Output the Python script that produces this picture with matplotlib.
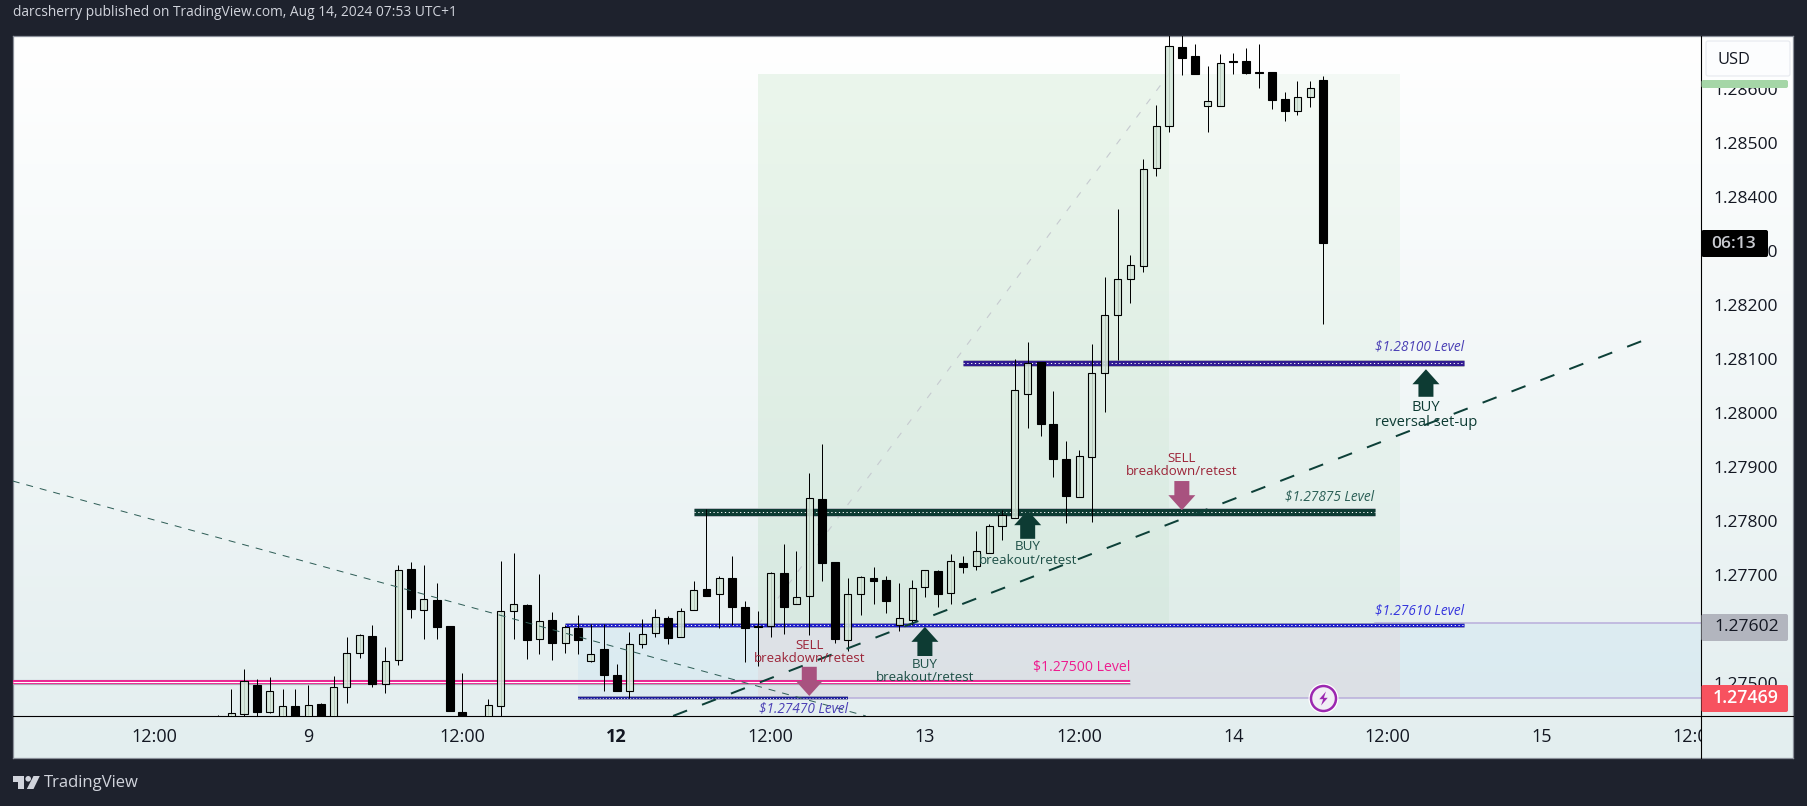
import matplotlib
matplotlib.use("Agg")
import matplotlib.pyplot as plt
import numpy as np
from matplotlib.patches import Rectangle, FancyBboxPatch, Circle, Polygon
from matplotlib.transforms import Bbox

plt.rcParams['font.family'] = ['Open Sans', 'DejaVu Sans']

W, H = 1807, 806
PX = 0.72  # one pixel in points

# hourly candles, hour 0 = Aug 9 00:00, weekend left out
hours = np.arange(-7, 80)
opens = [1.27420, 1.27420, 1.27443, 1.27496, 1.27447, 1.27420, 1.27457,
         1.27425, 1.27461, 1.27425, 1.27493, 1.27556, 1.27587, 1.27499, 1.27543, 1.27711, 1.27636,
         1.27654, 1.27606, 1.27446, 1.27430, 1.27425, 1.27458, 1.27633, 1.27644, 1.27582, 1.27617,
         1.27575, 1.27602, 1.27541, 1.27563, 1.27514, 1.27486, 1.27572, 1.27592, 1.27620, 1.27585,
         1.27635, 1.27674, 1.27664, 1.27694, 1.27640, 1.27605, 1.27605, 1.27703, 1.27646, 1.27661,
         1.27840, 1.27724, 1.27580, 1.27664, 1.27694, 1.27690, 1.27607, 1.27617, 1.27677, 1.27707,
         1.27666, 1.27723, 1.27717, 1.27741, 1.27790, 1.27806, 1.28036, 1.28094, 1.27980, 1.27915,
         1.27844, 1.27918, 1.28074, 1.28181, 1.28248, 1.28272, 1.28453, 1.28531, 1.28677, 1.28661,
         1.28568, 1.28568, 1.28651, 1.28651, 1.28631, 1.28631, 1.28581, 1.28559, 1.28586, 1.28616]
highs = [1.27441, 1.27489, 1.27526, 1.27507, 1.27511, 1.27489, 1.27489,
         1.27496, 1.27463, 1.27513, 1.27585, 1.27591, 1.27607, 1.27567, 1.27718, 1.27724, 1.27718,
         1.27685, 1.27606, 1.27518, 1.27435, 1.27470, 1.27726, 1.27741, 1.27646, 1.27702, 1.27631,
         1.27607, 1.27626, 1.27610, 1.27609, 1.27536, 1.27594, 1.27618, 1.27637, 1.27625, 1.27638,
         1.27689, 1.27823, 1.27698, 1.27735, 1.27651, 1.27633, 1.27705, 1.27757, 1.27744, 1.27888,
         1.27942, 1.27724, 1.27694, 1.27699, 1.27714, 1.27699, 1.27685, 1.27690, 1.27709, 1.27709,
         1.27738, 1.27735, 1.27781, 1.27794, 1.27820, 1.28100, 1.28131, 1.28094, 1.28041, 1.27948,
         1.27931, 1.28128, 1.28252, 1.28378, 1.28293, 1.28470, 1.28570, 1.28710, 1.28710, 1.28683,
         1.28642, 1.28664, 1.28666, 1.28675, 1.28683, 1.28631, 1.28594, 1.28614, 1.28614, 1.28624]
lows = [1.27400, 1.27410, 1.27430, 1.27430, 1.27444, 1.27410, 1.27410,
        1.27415, 1.27415, 1.27420, 1.27463, 1.27546, 1.27493, 1.27481, 1.27533, 1.27620, 1.27581,
        1.27581, 1.27448, 1.27420, 1.27410, 1.27420, 1.27430, 1.27581, 1.27544, 1.27554, 1.27543,
        1.27556, 1.27554, 1.27539, 1.27486, 1.27486, 1.27472, 1.27565, 1.27586, 1.27573, 1.27585,
        1.27635, 1.27661, 1.27602, 1.27607, 1.27538, 1.27532, 1.27585, 1.27591, 1.27646, 1.27589,
        1.27689, 1.27574, 1.27560, 1.27626, 1.27646, 1.27630, 1.27597, 1.27607, 1.27659, 1.27640,
        1.27646, 1.27704, 1.27710, 1.27741, 1.27765, 1.27806, 1.27973, 1.27957, 1.27882, 1.27797,
        1.27844, 1.27799, 1.28001, 1.28098, 1.28204, 1.28261, 1.28438, 1.28521, 1.28626, 1.28627,
        1.28521, 1.28568, 1.28628, 1.28628, 1.28602, 1.28562, 1.28540, 1.28551, 1.28567, 1.28165]
closes = [1.27410, 1.27444, 1.27503, 1.27447, 1.27486, 1.27457, 1.27420,
          1.27459, 1.27425, 1.27492, 1.27555, 1.27588, 1.27498, 1.27540, 1.27710, 1.27637, 1.27655,
          1.27604, 1.27448, 1.27425, 1.27420, 1.27460, 1.27633, 1.27646, 1.27580, 1.27614, 1.27574,
          1.27603, 1.27580, 1.27553, 1.27514, 1.27486, 1.27572, 1.27590, 1.27622, 1.27584, 1.27633,
          1.27672, 1.27662, 1.27694, 1.27641, 1.27601, 1.27604, 1.27703, 1.27641, 1.27659, 1.27842,
          1.27723, 1.27582, 1.27664, 1.27696, 1.27688, 1.27652, 1.27620, 1.27675, 1.27709, 1.27665,
          1.27725, 1.27715, 1.27744, 1.27790, 1.27811, 1.28042, 1.28092, 1.27980, 1.27915, 1.27847,
          1.27920, 1.28074, 1.28181, 1.28248, 1.28274, 1.28451, 1.28531, 1.28679, 1.28658, 1.28627,
          1.28577, 1.28649, 1.28650, 1.28630, 1.28630, 1.28580, 1.28560, 1.28586, 1.28601, 1.28314]

price_ticks = [1.275, 1.276, 1.277, 1.278, 1.279, 1.280, 1.281, 1.282, 1.283, 1.284, 1.285, 1.286]
time_ticks = [-12, 0, 12, 24, 36, 48, 60, 72, 84, 96, 108]
time_labels = ['12:00', '9', '12:00', '12', '12:00', '13', '12:00', '14', '12:00', '15', '12:00']

# horizontal levels: start, end, price, colour, thickness in px, outer thickness in px
level_start = [-23, 20, 30, 51]
level_end = [64, 90, 83, 90]
level_price = [1.27501, 1.27607, 1.27817, 1.28093]
level_color = ['#ee1c8f', '#1c1cc8', '#0d3b33', '#311b92']
level_width = [3.8, 3.4, 7, 5]
level_outer = [5.2, 5, 8.6, 7]
low_level = (21, 42, 1.27472)

# level captions: right end, price, text, colour
cap_x = [90, 83, 90, 64, 42]
cap_y = [1.28122, 1.27845, 1.27634, 1.27528, 1.27452]
cap_text = ['$1.28100 Level', '$1.27875 Level', '$1.27610 Level', '$1.27500 Level', '$1.27470 Level']
cap_color = ['#4a3fb5', '#2b5f56', '#3535dd', '#ee1c8f', '#4a3fb5']
cap_style = ['italic', 'italic', 'italic', 'normal', 'italic']
cap_size = [9.8, 9.8, 9.8, 10.1, 9.8]

# trade arrows: time, tail, tip, first line, second line, texts
buy_x = [56, 48, 87]
buy_tail = [1.27767, 1.27550, 1.28030]
buy_tip = [1.27820, 1.27604, 1.28081]
buy_y1 = [1.27752, 1.27535, 1.28011]
buy_y2 = [1.27726, 1.27511, 1.27983]
buy_text = ['breakout/retest', 'breakout/retest', 'reversal set-up']
buy_size = [9.6, 9.6, 10.6]
buy_color = ['#1e5047', '#1e5047', '#0d3b33']
sell_x = [39, 68]
sell_tail = [1.27530, 1.27874]
sell_tip = [1.27476, 1.27820]
sell_y1 = [1.27570, 1.27915]
sell_y2 = [1.27546, 1.27891]
sell_text = ['breakdown/retest', 'breakdown/retest']

fig = plt.figure(figsize=(W / 100, H / 100), dpi=100, facecolor='#1e222d')


def box(x0, y0, x1, y1):
    return [x0 / W, 1 - y1 / H, (x1 - x0) / W, (y1 - y0) / H]


# backdrop with the gradient
bg = fig.add_axes(box(13, 36, 1793, 758), zorder=0)
grad = np.linspace(0, 1, 256)[:, None, None] * (np.array([227, 238, 239]) - 255) + 255
bg.imshow(grad.astype(np.uint8), aspect='auto', extent=[0, 1, 0, 1])
bg.set_xticks([])
bg.set_yticks([])
for s in bg.spines.values():
    s.set_color('#8a8f99')
    s.set_linewidth(0.9)

# main chart
ax = fig.add_axes(box(13, 36, 1701, 716), zorder=1)
ax.patch.set_alpha(0)
ax.set_xlim(-22.98, 108.41)
ax.set_ylim(1.274389, 1.286981)

# position tool areas
ax.add_patch(Rectangle((35, 1.27607), 50, 0.01021, fc='#4caf50', alpha=0.05, lw=0, zorder=1))
ax.add_patch(Rectangle((35, 1.27607), 32, 0.01021, fc='#4caf50', alpha=0.05, lw=0, zorder=1))
ax.add_patch(Rectangle((21, 1.27473), 88, 0.00138, fc='#2196f3', alpha=0.05, lw=0, zorder=1))
ax.add_patch(Rectangle((35, 1.27473), 50, 0.00134, fc='#f44336', alpha=0.06, lw=0, zorder=1))
ax.plot([83, 109], [1.27611, 1.27611], color='#b9aedb', lw=1.1, zorder=1.5)
ax.plot([42, 109], [1.27473, 1.27473], color='#b9aedb', lw=1.1, zorder=1.5)
ax.plot([35, 67], [1.27607, 1.28628], color='#c6cad0', lw=0.8, ls=(0, (6, 9)), zorder=1.5)

# levels
for i in range(len(level_price)):
    xs = [level_start[i], level_end[i]]
    ys = [level_price[i], level_price[i]]
    ax.plot(xs, ys, color='#a9adb6', lw=level_outer[i] * PX, solid_capstyle='butt', zorder=2)
    ax.plot(xs, ys, color=level_color[i], lw=level_width[i] * PX, solid_capstyle='butt', zorder=2.1)
    if level_color[i] == '#ee1c8f':
        ax.plot(xs, ys, color='white', lw=1.1 * PX, solid_capstyle='butt', zorder=2.2)
    else:
        ax.plot(xs, ys, color='white', lw=1 * PX, ls=(0, (1.2, 2.6)), dash_capstyle='butt', zorder=2.2)
ax.plot(low_level[:2], [low_level[2]] * 2, color='#a9adb6', lw=3.6 * PX, solid_capstyle='butt', zorder=2)
ax.plot(low_level[:2], [low_level[2]] * 2, color='#1c1c9a', lw=2.4 * PX, solid_capstyle='butt', zorder=2.1)
ax.plot(low_level[:2], [low_level[2]] * 2, color='white', lw=0.8 * PX, ls=(0, (1.2, 2.6)), zorder=2.2)

# candles
o = np.array(opens)
h = np.array(highs)
l = np.array(lows)
c = np.array(closes)
up = c >= o
ax.vlines(hours, l, h, color='black', lw=1 * PX, zorder=3)
ax.bar(hours[up], (c - o)[up], bottom=o[up], width=0.55, facecolor=(0.84, 0.91, 0.86, 0.88),
       edgecolor='black', linewidth=1.1 * PX, zorder=3.1)
ax.bar(hours[~up], (c - o)[~up], bottom=o[~up], width=0.62, facecolor='black',
       edgecolor='black', linewidth=1.1 * PX, zorder=3.1)

# trend lines
ax.plot([28.4, 104], [1.27439, 1.28135], color='#0d4038', lw=2 * PX, ls=(0, (7.5, 8)), zorder=3.5)
ax.plot([-23, 43.4], [1.27874, 1.27439], color='#2f5e57', lw=1 * PX, ls=(0, (7, 7)), zorder=3.5)

# arrows and notes
for i in range(len(buy_x)):
    ax.annotate('', xy=(buy_x[i], buy_tip[i]), xytext=(buy_x[i], buy_tail[i]), zorder=4,
                arrowprops=dict(facecolor='#0d3b33', edgecolor='none', width=15 * PX,
                                headwidth=27 * PX, headlength=15 * PX, shrink=0))
    ax.text(buy_x[i], buy_y1[i], 'BUY', color=buy_color[i], fontsize=buy_size[i], ha='center', va='center', zorder=5)
    ax.text(buy_x[i], buy_y2[i], buy_text[i], color=buy_color[i], fontsize=buy_size[i], ha='center', va='center', zorder=5)
for i in range(len(sell_x)):
    ax.annotate('', xy=(sell_x[i], sell_tip[i]), xytext=(sell_x[i], sell_tail[i]), zorder=4,
                arrowprops=dict(facecolor='#a8527f', edgecolor='none', width=15 * PX,
                                headwidth=27 * PX, headlength=15 * PX, shrink=0))
    ax.text(sell_x[i], sell_y1[i], 'SELL', color='#9c2438', fontsize=9.5, ha='center', va='center', zorder=5)
    ax.text(sell_x[i], sell_y2[i], sell_text[i], color='#9c2438', fontsize=9.5, ha='center', va='center', zorder=5)

for i in range(len(cap_text)):
    ax.text(cap_x[i], cap_y[i], cap_text[i], color=cap_color[i], fontsize=cap_size[i], style=cap_style[i],
            ha='right', va='center', zorder=5)

# lightning icon
ax.scatter([79], [1.27473], s=(30 * PX) ** 2, facecolor='white', edgecolor='white', lw=0, zorder=6)
ax.scatter([79], [1.27473], s=(25 * PX) ** 2, facecolor='#f1eef5', edgecolor='#9c27b0', lw=1.8, zorder=6.1)
bolt = [(0.35, 1), (-0.6, -0.1), (-0.05, -0.1), (-0.35, -1), (0.6, 0.1), (0.05, 0.1)]
ax.scatter([79], [1.27473], s=(14 * PX) ** 2, marker=bolt, color='#9c27b0', lw=0, zorder=6.2)

# axes
ax.yaxis.tick_right()
ax.set_yticks(price_ticks)
ax.set_yticklabels(['%.5f' % p for p in price_ticks], fontsize=12.6, color='#131722')
ax.set_xticks(time_ticks)
ax.set_xticklabels(time_labels, fontsize=13, color='#131722')
ax.tick_params(axis='both', length=0)
ax.tick_params(axis='y', pad=9)
ax.tick_params(axis='x', pad=8.5)
ax.get_xticklabels()[3].set_fontweight('bold')
last = ax.get_xticklabels()[-1]
last.set_clip_on(True)
last.set_clip_box(Bbox([[0, 0], [1701, H]]))
for s in ['left', 'top']:
    ax.spines[s].set_visible(False)
for s in ['right', 'bottom']:
    ax.spines[s].set_color('black')
    ax.spines[s].set_linewidth(1.1 * PX)
ax.plot([1, 1], [-0.062, 0], transform=ax.transAxes, color='black', lw=1.1 * PX, clip_on=False)
ax.plot([1, 1.0545], [0, 0], transform=ax.transAxes, color='black', lw=1.1 * PX, clip_on=False)

# tags and furniture drawn in pixels, on top of the chart
top = fig.add_axes([0, 0, 1, 1], zorder=2)
top.set_xlim(0, W)
top.set_ylim(H, 0)
top.axis('off')
top.patch.set_alpha(0)


def tag(x0, y0, x1, y1, fc, ec='none'):
    top.add_patch(FancyBboxPatch((x0, y0), x1 - x0, y1 - y0, boxstyle='round,pad=0,rounding_size=2',
                                 fc=fc, ec=ec, lw=0.8))


tag(1706, 41, 1790, 76, '#fcfdfe', '#e6e9ee')
top.text(1718, 60, 'USD', fontsize=11.8, color='#131722', va='center')
tag(1701.5, 80, 1788, 88, '#a5d6a7')
tag(1701.5, 230, 1768, 257, 'black')
top.text(1734, 243.5, '06:13', fontsize=12.6, color='#c9cbd1', ha='center', va='center', fontweight='semibold')
tag(1701.5, 614, 1788, 641, '#b2b5be')
top.text(1779, 627, '1.27602', fontsize=12.6, color='#131722', ha='right', va='center')
tag(1701.5, 685, 1788, 712, '#f7525f')
top.text(1779, 698, '1.27469', fontsize=12.8, color='white', ha='right', va='center', fontweight='semibold')

top.text(13, 13, 'darcsherry published on TradingView.com, Aug 14, 2024 07:53 UTC+1', fontsize=9.9,
         color='#d1d4dc', va='center')

# TradingView logo
logo = '#d1d4dc'
top.add_patch(Polygon([(13, 776), (24.5, 776), (24.5, 789), (18.5, 789), (18.5, 781.5), (13, 781.5)], fc=logo, lw=0))
top.add_patch(Circle((28.2, 778.8), 2.8, fc=logo, lw=0))
top.add_patch(Polygon([(33.5, 776), (39.8, 776), (33.5, 789), (26.8, 789)], fc=logo, lw=0))
top.text(43.5, 783, 'TradingView', fontsize=12, color='#d1d4dc', va='center')

fig.savefig('out.png', dpi=100, facecolor=fig.get_facecolor())
